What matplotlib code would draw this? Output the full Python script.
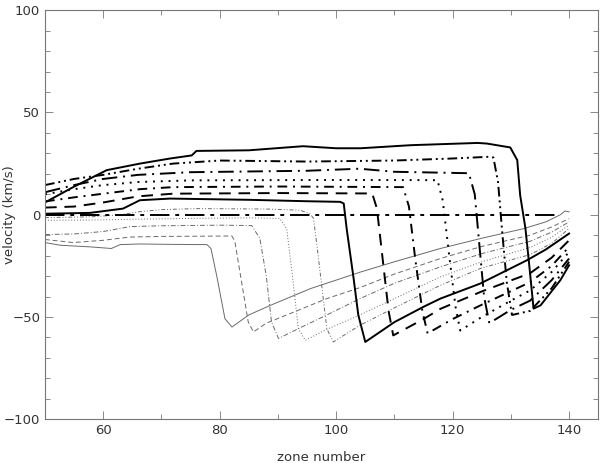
import matplotlib
matplotlib.use("Agg")
import matplotlib.pyplot as plt
from matplotlib.ticker import MultipleLocator

# --- данные: профили скорости по зонам (тонкие — ранние моменты, толстые — поздние)
t1_x = [50, 52.6, 57.7, 61.4, 62.9, 66.3, 72, 77.8, 78.5, 79.5, 80.9, 82.1, 85, 88.7, 95.6,
        104.2, 110, 117.9, 125, 132.2, 136, 138.5, 139.3, 140]
t1_y = [-13.6, -14.9, -15.7, -16.5, -14.6, -14.3, -14.5, -14.6, -16.5, -30, -50.8, -54.9, -49,
        -44.3, -36.1, -28, -23, -16.5, -11.5, -6.8, -3.5, 0, 1.8, 1.4]

t2_x = [50, 54.8, 60, 64.6, 70, 82.1, 82.6, 83.3, 84.9, 85.8, 88, 91.5, 98.4, 104.2, 110,
        117.9, 125, 133.3, 137, 140]
t2_y = [-12.1, -13.6, -12.5, -10.9, -10.6, -10.4, -13, -25, -52.4, -57.3, -53, -49, -41,
        -35.5, -29, -21.4, -15.5, -10, -6, -1.9]

t3_x = [50, 55, 60, 64.6, 70, 80, 85.5, 86.9, 88, 88.9, 90.1, 94, 98.4, 104.1, 110, 117.9,
        125, 133.3, 137, 140]
t3_y = [-9.7, -9.4, -8.2, -5.8, -5.4, -5.1, -5.3, -11.6, -30, -52.4, -60.5, -55, -49, -41,
        -33.5, -25.5, -19, -13, -8.5, -3.5]

t4_x = [50, 58, 65, 75, 85, 90.3, 91.5, 92.5, 93.5, 94.7, 98.4, 104.1, 110, 117.9, 125,
        133.3, 137, 140]
t4_y = [-2.7, -2.6, -2.2, -1.8, -1.5, -1.8, -6.8, -30, -55.7, -61.4, -56, -49, -41, -30.4,
        -23, -16, -11, -5.1]

t5_x = [50, 58, 63, 66, 70, 76, 88, 93.8, 95.5, 96.1, 96.7, 98.4, 99.5, 104.1, 110, 117.9,
        125, 133.3, 137, 140]
t5_y = [-1.4, -1.0, 0, 1.4, 2.5, 3, 2.8, 2.2, 0.5, -1.7, -15, -55.7, -62.2, -54, -45.5,
        -34.5, -26, -19.5, -14, -6.7]

zero_x = [50, 138.5]
zero_y = [0, 0]

s1_x = [50, 57.7, 63.4, 66.3, 71.5, 85, 95, 100.7, 101.3, 101.8, 103, 103.8, 105, 110, 115,
        117.9, 124.7, 132.8, 136, 140]
s1_y = [0.5, 0.9, 3, 7.1, 7.9, 7.3, 6.6, 6.3, 5.5, -6.7, -31.2, -49, -62.2, -52.5, -45, -41,
        -33.7, -22.2, -17, -9.2]

d_x = [50, 55, 60, 66, 72, 90, 106.2, 107, 108, 109, 109.8, 115, 117.9, 125, 133.3, 137, 140]
d_y = [3.5, 4, 6, 9, 10.3, 10.6, 10.4, 3, -22, -47, -59, -51, -46, -37.5, -28.6, -21, -12.5]

dd_x = [50, 55, 60.6, 66.3, 72, 90, 111.5, 112.5, 113.6, 114.8, 115.7, 120, 125, 133.3, 137, 140]
dd_y = [6.5, 8.5, 10.5, 12.5, 13.5, 13.8, 13.5, 4, -22, -47, -58, -51, -44, -33, -25, -15.7]

dot_x = [50, 55, 60, 66, 75, 100, 117.4, 118.3, 119.5, 120.5, 121.3, 125, 130, 133.3, 137, 140]
dot_y = [10, 12.5, 14.5, 16, 16.8, 17, 16.9, 7, -22, -45, -56.6, -50, -42, -37, -28, -18.2]

ldd_x = [50, 55, 60, 66, 75, 95, 104, 110, 122.8, 123.8, 124.6, 125.4, 126.3, 130, 133.3, 137, 140]
ldd_y = [11, 14.5, 17.5, 19.5, 20.8, 21.5, 22.5, 21, 20.3, 10, -15, -40, -53, -46.5, -42, -32,
         -21.4]

ddd_x = [50, 55, 60, 66, 72, 80, 95, 110, 120, 126, 127, 127.8, 128.5, 129.3, 130.2, 133.3,
         137, 140]
ddd_y = [14.5, 17.5, 19.5, 22.5, 25, 26.5, 26, 26.5, 27.5, 28.3, 28, 16, -8, -33, -49, -47,
         -36, -23]

s2_x = [50, 54.9, 60.6, 66.3, 71.5, 75.2, 76, 85, 94.3, 100, 104.2, 112.8, 124.3, 125.9, 129.9,
        131.1, 131.6, 132.5, 133.1, 133.9, 135.1, 138.5, 140]
s2_y = [6, 13.6, 21.8, 25, 27.5, 29, 31.2, 31.5, 33.5, 32.5, 32.5, 34, 35.1, 34.8, 32.9, 26.7,
        9.5, -6.6, -23, -45.9, -44.3, -32, -24.7]

# --- оформление линий
THIN = dict(color="#6a6a6a", linewidth=0.7)
THICK = dict(color="black", linewidth=1.4)

curves = [
    (t1_x, t1_y, THIN, "-"),
    (t2_x, t2_y, THIN, (0, (5, 3))),
    (t3_x, t3_y, THIN, (0, (5, 2, 1, 2))),
    (t4_x, t4_y, THIN, (0, (1, 2))),
    (t5_x, t5_y, THIN, (0, (4, 2, 1, 2, 1, 2))),
    (zero_x, zero_y, THICK, (0, (10, 3, 2, 3))),
    (s1_x, s1_y, THICK, "-"),
    (d_x, d_y, THICK, (0, (6, 4))),
    (dd_x, dd_y, THICK, (0, (5, 3, 1, 3))),
    (dot_x, dot_y, THICK, (0, (1, 3))),
    (ldd_x, ldd_y, THICK, (0, (8, 3, 1, 3))),
    (ddd_x, ddd_y, THICK, (0, (5, 2, 1, 2, 1, 2))),
    (s2_x, s2_y, THICK, "-"),
]

fig = plt.figure(figsize=(6.0, 4.63), dpi=100)
ax = fig.add_axes([0.075, 0.0944, 0.922, 0.8836])

for xs, ys, style, ls in curves:
    ax.plot(xs, ys, linestyle=ls, **style)

ax.set_xlim(50, 145)
ax.set_ylim(-100, 100)
ax.xaxis.set_major_locator(MultipleLocator(20))
ax.xaxis.set_minor_locator(MultipleLocator(10))
ax.yaxis.set_major_locator(MultipleLocator(50))
ax.yaxis.set_minor_locator(MultipleLocator(10))
ax.tick_params(which="both", direction="in", top=True, right=True, colors="#777777",
               labelcolor="#333333", labelsize=9.5)
ax.tick_params(which="major", length=6, width=0.6)
ax.tick_params(which="minor", length=3.5, width=0.6)
ax.set_xticks([60, 80, 100, 120, 140])
for sp in ax.spines.values():
    sp.set_color("#777777")
    sp.set_linewidth(0.8)

ax.set_xlabel("zone number", fontsize=9.5, color="#333333", labelpad=10)
ax.set_ylabel("velocity (km/s)", fontsize=9.5, color="#333333")
ax.yaxis.set_label_coords(-0.052, 0.5)

fig.savefig("out.png", dpi=100)
